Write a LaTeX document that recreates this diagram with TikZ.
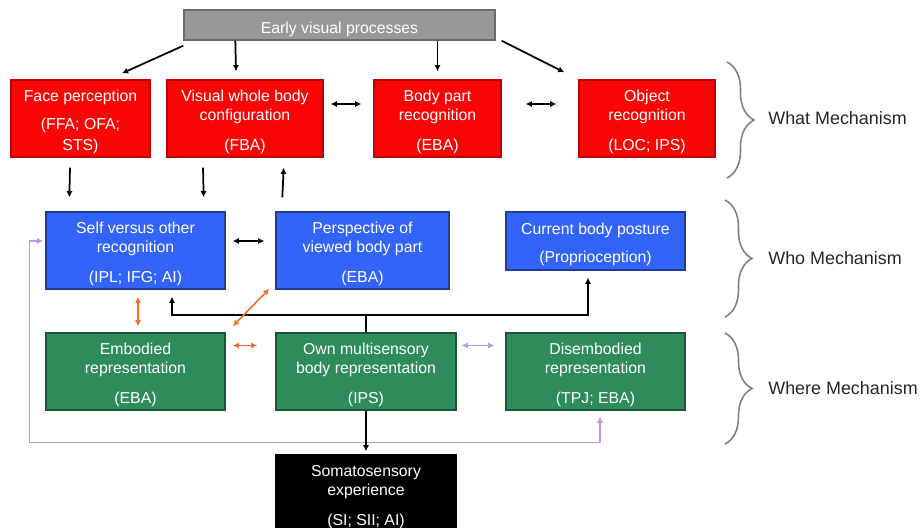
\documentclass[tikz,border=0pt]{standalone}
\usepackage{fontspec}
\setmainfont{Liberation Sans}
\usetikzlibrary{arrows.meta,positioning,calc,decorations.pathreplacing}

\definecolor{earlygray}{RGB}{152,152,152}
\definecolor{whatred}{RGB}{250,5,5}
\definecolor{whoblue}{RGB}{50,100,250}
\definecolor{wheregreen}{RGB}{45,140,90}
\definecolor{linkorange}{RGB}{240,110,40}
\definecolor{linklilac}{RGB}{190,150,235}

% pushes the text of a box a little down
\newcommand{\topgap}{\rule{0pt}{10.4pt}}

\begin{document}
\begin{tikzpicture}[x=0.02cm,y=-0.02cm,
    box/.style={inner sep=0pt,align=center,text=white,line width=0.8pt,
      font=\fontsize{9}{10.8}\selectfont,minimum height=1.54cm},
    early/.style={box,fill=earlygray,draw=earlygray!70!black,minimum height=0.6cm},
    what/.style={box,fill=whatred,draw=whatred!75!black},
    who/.style={box,fill=whoblue,draw=whoblue!60!black},
    where/.style={box,fill=wheregreen,draw=wheregreen!60!black},
    soma/.style={box,fill=black,draw=black},
    arr/.style={-{Latex[length=3.5pt,width=3.5pt]},line width=1pt},
    dbl/.style={{Latex[length=3.5pt,width=3.5pt]}-{Latex[length=3.5pt,width=3.5pt]},line width=1pt},
    orangedbl/.style={dbl,linkorange,line width=0.9pt},
    lilacdbl/.style={dbl,linklilac,line width=0.9pt},
    brace/.style={decorate,decoration={brace,amplitude=0.54cm},gray,line width=0.9pt},
    mech/.style={anchor=west,inner sep=0pt,font=\fontsize{10.2}{12}\selectfont,text=black!85}]
  \useasboundingbox (0,0) rectangle (921,528);

  % top
  \node[early,minimum width=6.22cm] (early) at (339.5,25) {\rule{0pt}{11pt}Early visual processes};

  % What row
  \node[what,minimum width=2.78cm] (face) at (80.5,118.5)
    {\topgap Face perception\\[5.5pt](FFA; OFA;\\[1pt]STS)};
  \node[what,minimum width=3.12cm] (visual) at (245,118.5)
    {\topgap Visual whole body\\configuration\\[6pt](FBA)};
  \node[what,minimum width=2.54cm] (bodypart) at (437.5,118.5)
    {\topgap Body part\\recognition\\[6pt](EBA)};
  \node[what,minimum width=2.72cm] (object) at (647,118.5)
    {\topgap Object\\recognition\\[6pt](LOC; IPS)};

  % Who row
  \node[who,minimum width=3.58cm] (self) at (135.5,250.5)
    {\topgap Self versus other\\recognition\\[6pt](IPL; IFG; AI)};
  \node[who,minimum width=3.46cm] (persp) at (362.5,250.5)
    {\topgap Perspective of\\viewed body part\\[6pt](EBA)};
  \node[who,minimum width=3.58cm,minimum height=1.16cm] (posture) at (595.5,241)
    {\topgap Current body posture\\[5.5pt](Proprioception)};

  % Where row
  \node[where,minimum width=3.58cm] (embodied) at (135.5,371.5)
    {\topgap Embodied\\representation\\[6pt](EBA)};
  \node[where,minimum width=3.6cm] (own) at (366,371.5)
    {\topgap Own multisensory\\body representation\\[6pt](IPS)};
  \node[where,minimum width=3.58cm] (disemb) at (595.5,371.5)
    {\topgap Disembodied\\representation\\[6pt](TPJ; EBA)};

  % bottom
  \node[soma,minimum width=3.6cm] (somato) at (366,493.5)
    {\topgap Somatosensory\\experience\\[6pt](SI; SII; AI)};

  % early visual -> What
  \draw[arr] ($(early.south west)+(0,5)$) -- ($(face.north)+(41.5,-6)$);
  \draw[arr] ($(early.south west)+(52,0)$) -- ($(visual.north)+(-9,-8)$);
  \draw[arr] (bodypart.north |- early.south) -- ($(bodypart.north)+(0,-8)$);
  \draw[arr] ($(early.south east)+(6,0)$) -- ($(object.north west)+(-14,-7)$);

  % within What
  \draw[dbl] ($(visual.east)+(7,-14.5)$) -- ($(bodypart.west)+(-12,-14.5)$);
  \draw[dbl] ($(bodypart.east)+(24,-14.5)$) -- ($(object.west)+(-22,-14.5)$);

  % What <-> Who
  \draw[arr] ($(face.south)+(-10.5,10)$) -- ($(self.north west)+(24,-14)$);
  \draw[arr] ($(visual.south)+(-42,10)$) -- ($(self.north east)+(-22,-14)$);
  \draw[arr] ($(persp.north west)+(7,-14)$) -- ($(visual.south east)+(-40,10)$);

  % within Who
  \draw[dbl] ($(self.east)+(7,-9.5)$) -- ($(persp.west)+(-11,-9.5)$);

  % Own body -> Who
  \coordinate (tee) at ($(own.north)+(0,-17)$);
  \draw[line width=1pt] (own.north) -- (tee);
  \draw[arr] (tee) -| ($(self.south)+(36.5,7)$);
  \draw[arr] (tee) -| ($(posture.south)+(-7.5,7)$);

  % orange links
  \draw[orangedbl] ($(self.south)+(2.5,7)$) -- ($(embodied.north)+(2.5,-6)$);
  \draw[orangedbl] ($(embodied.north east)+(7,-6)$) -- ($(persp.south west)+(-6,-1)$);
  \draw[orangedbl] ($(embodied.east)+(7,-26)$) -- ($(own.west)+(-18,-26)$);

  % lilac links
  \draw[lilacdbl] ($(own.east)+(5,-26)$) -- ($(disemb.west)+(-11,-26)$);
  \draw[lilacdbl] ($(self.west)+(-2,-9.5)$) -- ++(-14,0) |- ($(disemb.south)+(4.5,32)$)
    -- ($(disemb.south)+(4.5,6)$);

  % Own -> somatosensory
  \draw[arr] (own.south) -- ($(somato.north)+(0,-3)$);

  % braces
  \draw[brace] (727,62) -- (727,178);
  \draw[brace] (725,200) -- (725,317);
  \draw[brace] (725,333) -- (725,444);
  \node[mech] (whatlab) at (768,118) {What Mechanism};
  \node[mech] (wholab) at (768,258) {Who Mechanism};
  \node[mech] (wherelab) at (768,388) {Where Mechanism};
\end{tikzpicture}
\end{document}
